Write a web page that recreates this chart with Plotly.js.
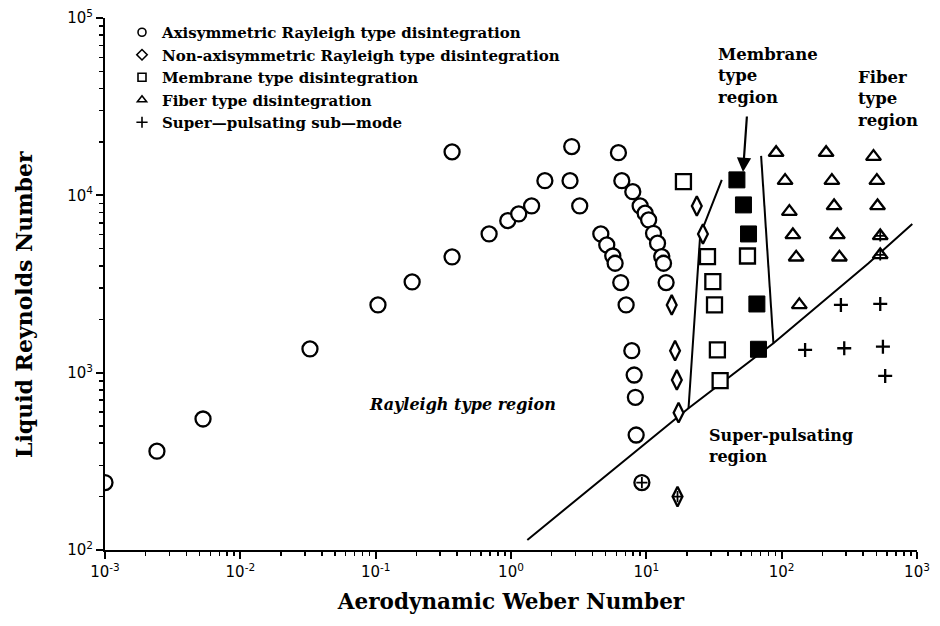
<!DOCTYPE html>
<html><head><meta charset="utf-8">
<script src="https://cdn.plot.ly/plotly-3.0.1.min.js"></script>
<style>html,body{margin:0;padding:0;background:#fff}</style>
</head><body><div id="chart" style="width:940px;height:626px"></div>
<script>
// ---- data ----
const axiX = [0.001, 0.00242, 0.0053, 0.0327, 0.104, 0.186, 0.367, 0.367, 0.689, 0.946, 1.14, 1.42, 1.78, 2.81, 2.73, 3.22, 6.22, 6.59, 7.94, 9.0, 9.8, 10.4, 11.3, 12.1, 13.0, 13.4, 14.0, 7.09, 6.47, 4.61, 5.1, 5.65, 5.88, 7.81, 8.13, 8.3, 8.41, 9.27];
const axiY = [240, 361, 548, 1361, 2410, 3250, 4495, 17580, 6057, 7200, 7855, 8713, 12100, 18830, 12100, 8713, 17400, 12100, 10490, 8713, 7930, 7265, 6110, 5370, 4510, 4140, 3220, 2410, 3220, 6057, 5250, 4550, 4140, 1331, 970, 726, 445, 240];

const nonAxiX = [15.4, 16.3, 16.8, 17.3, 23.6, 26.2, 17.0];
const nonAxiY = [2410, 1331, 910, 595, 8713, 6057, 200];

const memOpenX = [18.8, 28.3, 31.0, 31.9, 33.5, 35.1, 55.9];
const memOpenY = [11950, 4510, 3260, 2410, 1343, 901, 4550];

const memFillX = [46.7, 52.2, 56.9, 65.6, 67.4];
const memFillY = [12220, 8830, 6057, 2440, 1355];

const fiberX = [91.0, 213, 477, 106, 235, 505, 114, 244, 511, 121, 258, 535, 128, 267, 535, 135];
const fiberY = [17400, 17400, 16530, 12100, 12100, 12100, 8090, 8713, 8713, 5980, 5980, 5900, 4475, 4475, 4610, 2410];

const superX = [274, 535, 149, 290, 560, 582];
const superY = [2410, 2440, 1343, 1373, 1402, 958];
// super-pulsating marks drawn inside other symbols
const superOnX = [535, 535, 9.27, 17.0];
const superOnY = [5900, 4610, 240, 200];

// region boundaries
const pulseLineX = [1.32, 20.5, 86.9, 438, 923];
const pulseLineY = [114, 630, 1465, 4140, 6900];
const memLeftX = [20.5, 25.0, 36.1];
const memLeftY = [630, 5980, 12220];
const memRightX = [70.5, 86.9];
const memRightY = [16700, 1465];

const legendNames = ["Axisymmetric Rayleigh type disintegration",
  "Non-axisymmetric Rayleigh type disintegration",
  "Membrane type disintegration",
  "Fiber type disintegration",
  "Super\u2014pulsating sub\u2014mode"];
const tickPowersX = [-3, -2, -1, 0, 1, 2, 3];
const tickPowersY = [2, 3, 4, 5];

// ---- traces ----
const BL = 'black';
const lineStyle = {color: BL, width: 2};
const mline = {color: BL, width: 2.3};
const traces = [
  {x: pulseLineX, y: pulseLineY, mode: 'lines', line: lineStyle, showlegend: false, hoverinfo: 'skip'},
  {x: memLeftX, y: memLeftY, mode: 'lines', line: lineStyle, showlegend: false, hoverinfo: 'skip'},
  {x: memRightX, y: memRightY, mode: 'lines', line: lineStyle, showlegend: false, hoverinfo: 'skip'},
  {x: axiX, y: axiY, mode: 'markers', showlegend: false,
   marker: {symbol: 'circle', size: 15, color: 'white', line: mline}},
  {x: nonAxiX, y: nonAxiY, mode: 'markers', showlegend: false,
   marker: {symbol: 'diamond-tall', size: 14, color: 'white', line: mline}},
  {x: memOpenX, y: memOpenY, mode: 'markers', showlegend: false,
   marker: {symbol: 'square', size: 15, color: 'white', line: mline}},
  {x: memFillX, y: memFillY, mode: 'markers', showlegend: false,
   marker: {symbol: 'square', size: 16, color: BL, line: {color: BL, width: 1}}},
  {x: fiberX, y: fiberY, mode: 'markers', showlegend: false,
   marker: {symbol: 'triangle-up', size: 13, color: 'white', line: mline}},
  {x: superX, y: superY, mode: 'markers', showlegend: false,
   marker: {symbol: 'cross-thin-open', size: 10, color: BL, line: {color: BL, width: 2.3}}},
  {x: superOnX, y: superOnY, mode: 'markers', showlegend: false,
   marker: {symbol: 'cross-thin-open', size: 8, color: BL, line: {color: BL, width: 1.8}}}
];
// legend-only entries with small symbols
const legSyms = ['circle-open', 'diamond-open', 'square-open', 'triangle-up-open', 'cross-thin-open'];
legendNames.forEach((n, i) => {
  traces.push({x: [null], y: [null], mode: 'markers', name: n, showlegend: true,
    marker: {symbol: legSyms[i], size: 8, color: BL, line: {color: BL, width: 1.6}}});
});

const serif = 'DejaVu Serif, Liberation Serif, serif';
const tickFont = {family: 'DejaVu Sans, Arial, sans-serif', size: 15, color: BL};
const px = v => (v - 105) / 812;
const py = v => (550 - v) / 532;

const layout = {
  width: 940, height: 626,
  paper_bgcolor: 'white', plot_bgcolor: 'white',
  margin: {l: 105, r: 23, t: 18, b: 76},
  font: {family: serif, color: BL},
  showlegend: true,
  legend: {x: px(122), y: py(16), xanchor: 'left', yanchor: 'top',
    bgcolor: 'rgba(0,0,0,0)', font: {family: serif, size: 15, color: BL, weight: 'bold'},
    tracegroupgap: 0, itemwidth: 30},
  xaxis: {type: 'log', range: [-3, 3], showgrid: false, zeroline: false,
    showline: true, linecolor: BL, linewidth: 2, mirror: false,
    ticks: 'outside', ticklen: 7, tickwidth: 2, tickcolor: BL,
    tickvals: tickPowersX.map(p => Math.pow(10, p)),
    ticktext: tickPowersX.map(p => '10<sup>' + p + '</sup>'),
    tickfont: tickFont,
    minor: {dtick: 'D1', ticks: 'outside', ticklen: 4, tickwidth: 1.5, tickcolor: BL, showgrid: false},
    title: {text: '<b>Aerodynamic Weber Number</b>', font: {family: serif, size: 21.5, color: BL}, standoff: 14}},
  yaxis: {type: 'log', range: [2, 5], showgrid: false, zeroline: false,
    showline: true, linecolor: BL, linewidth: 2, mirror: false,
    ticks: 'outside', ticklen: 7, tickwidth: 2, tickcolor: BL,
    tickvals: tickPowersY.map(p => Math.pow(10, p)),
    ticktext: tickPowersY.map(p => '10<sup>' + p + '</sup>'),
    tickfont: tickFont,
    minor: {dtick: 'D1', ticks: 'outside', ticklen: 4, tickwidth: 1.5, tickcolor: BL, showgrid: false},
    title: {text: ''}},
  annotations: [
    {xref: 'paper', yref: 'paper', x: px(24), y: py(305), xanchor: 'center', yanchor: 'middle',
     textangle: -90, showarrow: false, text: '<b>Liquid Reynolds Number</b>',
     font: {family: serif, size: 22, color: BL}},
    {xref: 'paper', yref: 'paper', x: px(716), y: py(43), xanchor: 'left', yanchor: 'top', align: 'left',
     showarrow: false, text: '<b>Membrane<br>type<br>region</b>', font: {family: serif, size: 16.5, color: BL}},
    {xref: 'paper', yref: 'paper', x: px(856), y: py(66), xanchor: 'left', yanchor: 'top', align: 'left',
     showarrow: false, text: '<b>Fiber<br>type<br>region</b>', font: {family: serif, size: 16.5, color: BL}},
    {xref: 'paper', yref: 'paper', x: px(367), y: py(404), xanchor: 'left', yanchor: 'middle', align: 'left',
     showarrow: false, text: '<b><i>Rayleigh type region</i></b>', font: {family: serif, size: 16, color: BL}},
    {xref: 'paper', yref: 'paper', x: px(707), y: py(424), xanchor: 'left', yanchor: 'top', align: 'left',
     showarrow: false, text: '<b>Super-pulsating<br>region</b>', font: {family: serif, size: 16, color: BL}},
    {xref: 'paper', yref: 'paper', x: px(743), y: py(172), text: '', showarrow: true,
     ax: 4, ay: -57, arrowhead: 2, arrowsize: 1.3, arrowwidth: 2.2, arrowcolor: BL, standoff: 0}
  ]
};

Plotly.newPlot('chart', traces, layout, {staticPlot: true, displayModeBar: false});
</script></body></html>
